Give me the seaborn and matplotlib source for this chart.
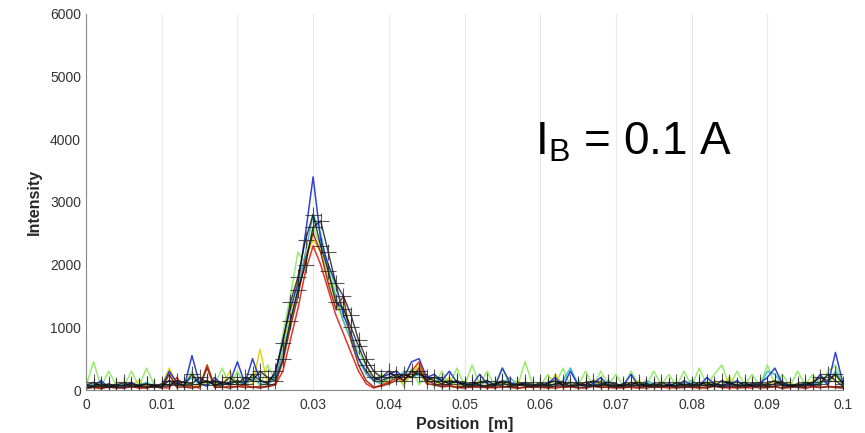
import numpy as np
import pandas as pd
import matplotlib
matplotlib.use("Agg")
import matplotlib.pyplot as plt
import seaborn as sns

# ---- data ----
position = [i / 1000 for i in range(101)]

blue = [80, 60, 150, 40, 90, 50, 120, 60, 40, 70,
        50, 300, 120, 60, 550, 100, 60, 200, 80, 120,
        450, 100, 500, 150, 120, 250, 800, 1300, 1700, 2500,
        3400, 2400, 2000, 1700, 1200, 900, 500, 300, 150, 200,
        250, 300, 200, 450, 500, 200, 250, 150, 300, 120,
        100, 80, 250, 100, 60, 350, 120, 80, 100, 60,
        80, 100, 200, 60, 300, 80, 60, 100, 200, 60,
        50, 80, 250, 60, 100, 80, 50, 100, 60, 150,
        80, 60, 200, 100, 60, 80, 150, 60, 80, 100,
        200, 350, 100, 60, 80, 60, 100, 250, 80, 600,
        100]

cyan = [60, 100, 40, 80, 60, 100, 50, 80, 120, 60,
        90, 150, 60, 100, 200, 80, 150, 60, 100, 80,
        150, 60, 200, 100, 80, 200, 600, 1100, 1600, 2200,
        2800, 2500, 1900, 1500, 1100, 800, 500, 250, 150, 100,
        200, 150, 300, 200, 250, 150, 100, 200, 80, 150,
        60, 100, 80, 150, 60, 100, 200, 80, 100, 60,
        100, 60, 80, 150, 350, 80, 60, 100, 80, 150,
        60, 100, 80, 60, 150, 100, 60, 80, 100, 60,
        150, 80, 60, 100, 80, 150, 60, 100, 80, 60,
        300, 250, 100, 80, 60, 100, 80, 150, 100, 300,
        80]

green = [60, 450, 50, 300, 80, 60, 300, 60, 350, 80,
         60, 250, 60, 80, 300, 60, 400, 80, 350, 60,
         300, 80, 250, 60, 400, 150, 900, 1500, 2200, 2000,
         2600, 2300, 2000, 1600, 1300, 900, 600, 400, 150, 250,
         80, 250, 60, 350, 80, 250, 60, 300, 80, 350,
         60, 400, 80, 300, 60, 350, 80, 60, 450, 80,
         60, 250, 80, 350, 60, 80, 300, 60, 300, 80,
         250, 60, 300, 80, 60, 300, 80, 250, 60, 300,
         60, 350, 80, 250, 400, 60, 300, 80, 250, 60,
         400, 80, 250, 60, 300, 80, 250, 60, 300, 400,
         80]

yellow = [50, 80, 60, 40, 100, 60, 80, 150, 50, 80,
          60, 350, 80, 60, 100, 50, 120, 80, 60, 300,
          80, 60, 100, 650, 80, 200, 700, 1200, 1800, 2100,
          2400, 2200, 1800, 1400, 1100, 800, 500, 300, 200, 100,
          150, 200, 100, 250, 400, 100, 150, 80, 200, 60,
          100, 60, 150, 80, 60, 100, 80, 150, 60, 80,
          100, 60, 250, 80, 60, 100, 80, 60, 150, 60,
          80, 60, 100, 150, 60, 80, 60, 100, 80, 60,
          100, 60, 80, 150, 60, 200, 80, 60, 100, 60,
          80, 150, 60, 100, 80, 60, 150, 200, 80, 250,
          60]

red = [30, 40, 20, 50, 30, 40, 60, 30, 40, 50,
       40, 30, 200, 40, 60, 30, 400, 50, 40, 60,
       50, 80, 40, 60, 50, 80, 300, 800, 1300, 1900,
       2300, 2000, 1600, 1200, 900, 600, 300, 100, 30, 80,
       120, 200, 150, 300, 450, 150, 100, 60, 80, 40,
       50, 40, 60, 30, 50, 40, 60, 30, 40, 50,
       40, 30, 60, 40, 50, 30, 40, 60, 50, 40,
       30, 50, 40, 30, 60, 40, 50, 30, 40, 50,
       40, 30, 50, 60, 40, 30, 50, 40, 30, 60,
       40, 50, 30, 40, 60, 30, 50, 40, 60, 50,
       40]

dark_red = [20, 50, 30, 60, 40, 30, 50, 40, 30, 60,
            30, 250, 40, 50, 30, 60, 350, 40, 50, 30,
            60, 40, 50, 30, 60, 100, 450, 1000, 1500, 2100,
            2500, 2200, 1700, 1300, 1500, 800, 400, 150, 50, 60,
            100, 150, 250, 200, 350, 100, 80, 50, 60, 40,
            30, 60, 40, 50, 30, 60, 40, 30, 50, 40,
            60, 40, 30, 50, 60, 40, 30, 60, 40, 50,
            40, 30, 60, 40, 30, 50, 40, 60, 30, 40,
            50, 40, 30, 60, 40, 50, 30, 40, 60, 30,
            40, 60, 30, 50, 40, 30, 60, 40, 50, 40,
            30]

black = [80, 120, 60, 100, 50, 80, 100, 60, 90, 70,
         60, 150, 100, 80, 250, 100, 150, 80, 120, 100,
         150, 100, 250, 150, 100, 300, 750, 1400, 1800, 2400,
         2800, 2300, 1900, 1400, 1300, 1000, 700, 400, 200, 150,
         200, 250, 150, 300, 250, 200, 150, 100, 150, 120,
         100, 80, 120, 150, 80, 150, 100, 80, 120, 90,
         80, 100, 150, 80, 120, 100, 80, 150, 100, 80,
         60, 100, 80, 120, 60, 100, 80, 60, 120, 80,
         100, 80, 120, 60, 150, 100, 80, 120, 60, 80,
         100, 150, 80, 60, 100, 80, 120, 200, 150, 250,
         100]

black2 = [40, 60, 100, 50, 80, 120, 60, 70, 100, 50,
          100, 80, 150, 120, 100, 200, 120, 150, 100, 200,
          100, 200, 150, 300, 200, 150, 500, 1100, 1600, 2000,
          2600, 2700, 2200, 1700, 1500, 1200, 800, 500, 300, 200,
          300, 200, 250, 200, 300, 150, 200, 150, 100, 150,
          60, 120, 80, 60, 100, 120, 60, 100, 80, 60,
          120, 60, 100, 120, 60, 80, 120, 60, 80, 120,
          100, 60, 120, 80, 100, 60, 120, 80, 60, 100,
          60, 120, 80, 100, 60, 120, 60, 80, 100, 120,
          60, 100, 120, 80, 60, 120, 80, 100, 250, 150,
          60]

x_ticks = [0, 0.01, 0.02, 0.03, 0.04, 0.05, 0.06, 0.07, 0.08, 0.09, 0.1]
x_tick_labels = ["0", "0.01", "0.02", "0.03", "0.04", "0.05", "0.06",
                 "0.07", "0.08", "0.09", "0.1"]
y_ticks = [0, 1000, 2000, 3000, 4000, 5000, 6000]

# ---- style ----
sns.set_style("white")
plt.rcParams["font.family"] = ["Liberation Sans", "DejaVu Sans"]
plt.rcParams["mathtext.fontset"] = "custom"
plt.rcParams["mathtext.rm"] = "Liberation Sans"
plt.rcParams["mathtext.it"] = "Liberation Sans"

fig = plt.figure(figsize=(8.65, 4.33), dpi=100)
ax = fig.add_axes([0.0994, 0.0993, 0.8752, 0.8684])

series = [
    (green, "#7fe64c", 0.8),
    (yellow, "#e6d000", 0.9),
    (cyan, "#2fb8c8", 0.9),
    (blue, "#1a2fd0", 0.9),
    (red, "#e02010", 0.9),
    (dark_red, "#8a1a08", 0.85),
]
for vals, col, a in series:
    sns.lineplot(x=position, y=vals, color=col, linewidth=1.1, alpha=a, ax=ax)

for vals in (black2, black):
    sns.lineplot(x=position, y=vals, color="black", linewidth=1.0, marker="+",
                 markersize=12, markeredgewidth=0.8, markeredgecolor="#222222",
                 alpha=0.75, ax=ax)

ax.set_xlim(0, 0.1)
ax.set_ylim(0, 6000)
ax.set_xticks(x_ticks)
ax.set_xticklabels(x_tick_labels)
ax.set_yticks(y_ticks)
ax.tick_params(axis="both", direction="in", length=4, width=0.8,
               colors="#777777", labelcolor="#333333", labelsize=10)
ax.tick_params(axis="x", pad=6)
ax.grid(axis="x", color="#e6e6e6", linewidth=0.8)
ax.grid(axis="y", visible=False)
for s in ["top", "right"]:
    ax.spines[s].set_visible(False)
for s in ["left", "bottom"]:
    ax.spines[s].set_color("#888888")
    ax.spines[s].set_linewidth(0.8)

ax.set_xlabel("Position  [m]", fontsize=11.5, fontweight="bold", color="#262626",
              labelpad=3)
ax.set_ylabel("Intensity", fontsize=11.5, fontweight="bold", color="#262626",
              labelpad=6)

ax.text(0.593, 0.625, r"I$_\mathrm{B}$ = 0.1 A", transform=ax.transAxes,
        fontsize=33, color="black", ha="left", va="baseline")

fig.savefig("out.png", dpi=100)
